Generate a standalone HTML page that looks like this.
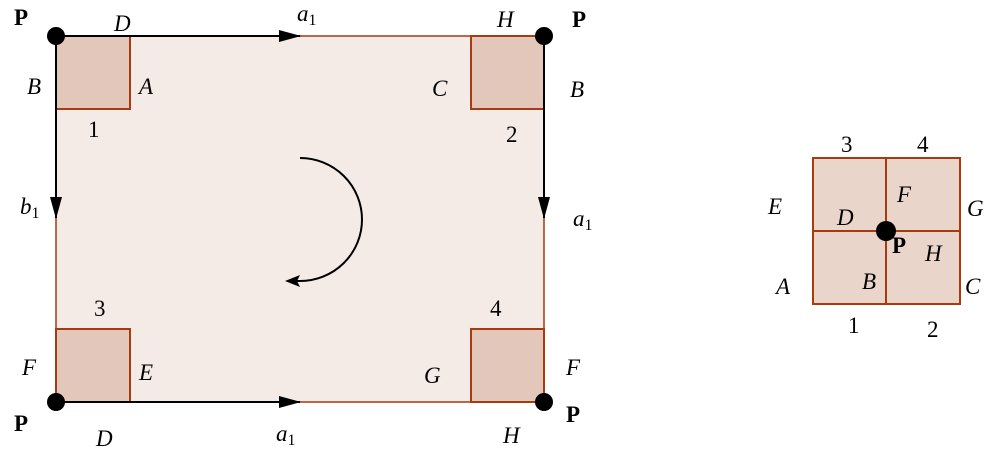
<!DOCTYPE html>
<html><head><meta charset="utf-8"><style>
html,body{margin:0;padding:0;background:#fff}
svg{display:block}
text{font-family:"Liberation Serif",serif;font-size:23px;fill:#000}
.i{font-style:italic}
.b{font-weight:bold}
.s{font-size:16px;font-style:normal}
</style></head><body>
<svg width="1007" height="449" viewBox="0 0 1007 449">
<defs><marker id="ar" markerWidth="22" markerHeight="12" refX="21" refY="6" orient="auto" markerUnits="userSpaceOnUse"><path d="M0,0 L22,6 L0,12 Z" fill="#000"/></marker></defs>
<g>
<rect x="56" y="36" width="488" height="366" fill="#f4eae6" stroke="#a63a10" stroke-width="1.5"/>
<rect x="56" y="36" width="74" height="73" fill="#e3c7ba" stroke="#a63a10" stroke-width="2"/>
<rect x="471" y="36" width="73" height="73" fill="#e3c7ba" stroke="#a63a10" stroke-width="2"/>
<rect x="56" y="329" width="74" height="73" fill="#e3c7ba" stroke="#a63a10" stroke-width="2"/>
<rect x="471" y="329" width="73" height="73" fill="#e3c7ba" stroke="#a63a10" stroke-width="2"/>
<line x1="56" y1="36" x2="300" y2="36" stroke="#000" stroke-width="2" marker-end="url(#ar)"/>
<line x1="56" y1="402" x2="300" y2="402" stroke="#000" stroke-width="2" marker-end="url(#ar)"/>
<line x1="56" y1="36" x2="56" y2="218" stroke="#000" stroke-width="2" marker-end="url(#ar)"/>
<line x1="544" y1="36" x2="544" y2="218" stroke="#000" stroke-width="2" marker-end="url(#ar)"/>
<path d="M300,158 A62,61.5 0 0 1 300,281 L290,281" fill="none" stroke="#000" stroke-width="2"/>
<path d="M285,281 L300,275 L297,281 L300,287 Z" fill="#000"/>
<circle cx="56" cy="36" r="9" fill="#000"/>
<circle cx="544" cy="36" r="9" fill="#000"/>
<circle cx="56" cy="402" r="9" fill="#000"/>
<circle cx="544" cy="402" r="9" fill="#000"/>
</g>
<g>
<text x="14" y="25" class="b">P</text>
<text x="572" y="27" class="b">P</text>
<text x="14" y="431" class="b">P</text>
<text x="566" y="422" class="b">P</text>
<text x="114" y="31" class="i">D</text>
<text x="27" y="94" class="i">B</text>
<text x="139" y="94" class="i">A</text>
<text x="88" y="137">1</text>
<text x="297" y="21" class="i">a<tspan class="s" dy="4">1</tspan></text>
<text x="497" y="27" class="i">H</text>
<text x="432" y="96" class="i">C</text>
<text x="570" y="97" class="i">B</text>
<text x="506" y="142">2</text>
<text x="20" y="214" class="i">b<tspan class="s" dy="4">1</tspan></text>
<text x="573" y="226" class="i">a<tspan class="s" dy="4">1</tspan></text>
<text x="94" y="316">3</text>
<text x="490" y="316">4</text>
<text x="22" y="375" class="i">F</text>
<text x="139" y="380" class="i">E</text>
<text x="424" y="383" class="i">G</text>
<text x="566" y="375" class="i">F</text>
<text x="96" y="446" class="i">D</text>
<text x="276" y="441" class="i">a<tspan class="s" dy="4">1</tspan></text>
<text x="503" y="443" class="i">H</text>
</g>
<g>
<rect x="813" y="158" width="147" height="146" fill="#ead5cb" stroke="#a63a10" stroke-width="2"/>
<line x1="886" y1="158" x2="886" y2="304" stroke="#a63a10" stroke-width="2"/>
<line x1="813" y1="231" x2="960" y2="231" stroke="#a63a10" stroke-width="2"/>
<circle cx="886" cy="231" r="10" fill="#000"/>
<text x="841" y="152">3</text>
<text x="917" y="152">4</text>
<text x="768" y="214" class="i">E</text>
<text x="897" y="202" class="i">F</text>
<text x="967" y="216" class="i">G</text>
<text x="837" y="225" class="i">D</text>
<text x="892" y="253" class="b">P</text>
<text x="925" y="261" class="i">H</text>
<text x="776" y="294" class="i">A</text>
<text x="862" y="289" class="i">B</text>
<text x="965" y="294" class="i">C</text>
<text x="848" y="333">1</text>
<text x="927" y="337">2</text>
</g>
</svg>
</body></html>
